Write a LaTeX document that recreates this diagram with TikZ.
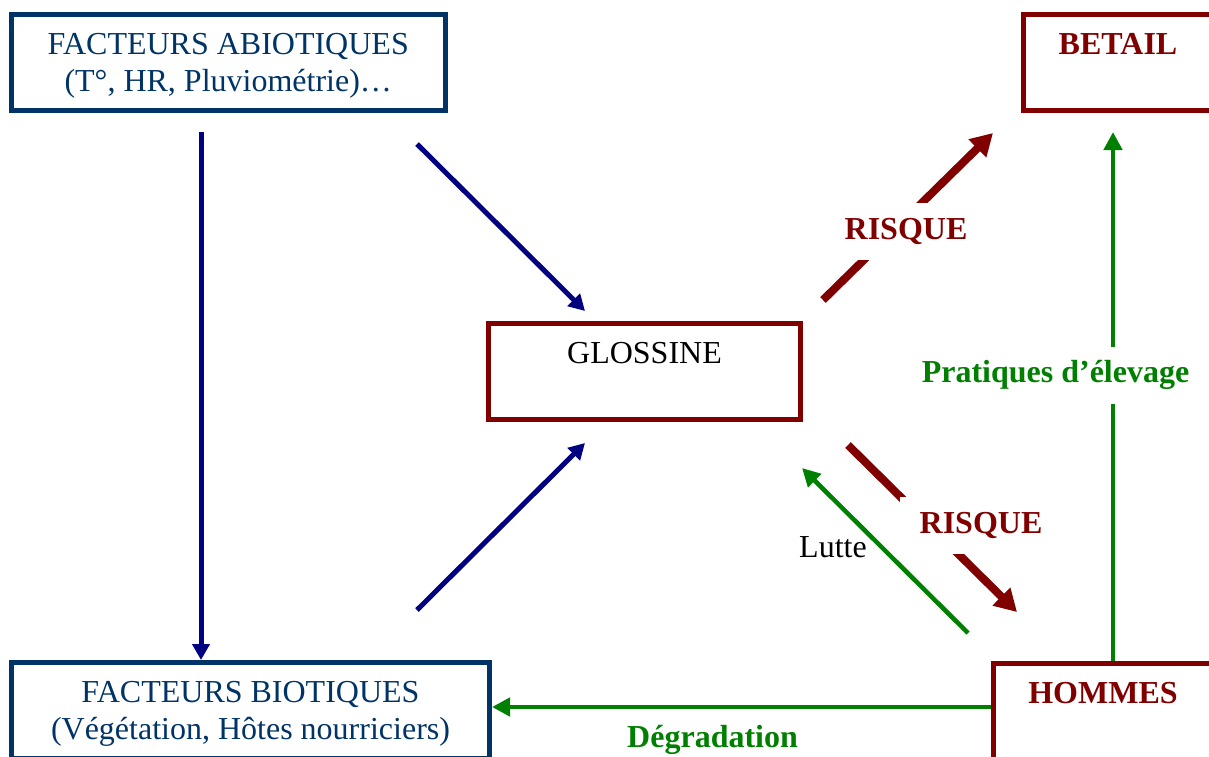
\documentclass[tikz,border=0pt]{standalone}
\usepackage{fontspec}
\setmainfont{Liberation Serif}
\usetikzlibrary{arrows.meta}

\definecolor{boxblue}{RGB}{0,51,102}
\definecolor{navyline}{RGB}{0,0,128}
\definecolor{darkred}{RGB}{128,0,0}
\definecolor{leafgreen}{RGB}{0,128,0}

\begin{document}
\begin{tikzpicture}[
  x=1pt, y=-1pt,
  font=\fontsize{32}{37}\selectfont,
  %% Box styles
  bluebox/.style  = {draw=boxblue, line width=5pt, text=boxblue,
                     align=center, text depth=0pt, minimum height=96pt},
  redbox/.style   = {draw=darkred, line width=5pt, align=center,
                     minimum height=96pt},
  hdr/.style      = {font=\fontsize{32}{37}\selectfont\bfseries, text=darkred},
  risklbl/.style  = {fill=white, font=\fontsize{32}{37}\selectfont\bfseries,
                     text=darkred, minimum height=57pt,
                     inner xsep=20pt, inner ysep=0pt},
  greenlbl/.style = {font=\fontsize{32}{37}\selectfont\bfseries,
                     text=leafgreen, inner sep=0pt},
  navyarr/.style  = {-{Triangle[length=16pt,width=17pt]}, navyline, line width=5pt},
  redarr/.style   = {-{Triangle[length=22pt,width=24pt]}, darkred, line width=8pt},
  greenarr/.style = {-{Triangle[length=18pt,width=18pt]}, leafgreen, line width=4.5pt},
]
\useasboundingbox (0,0) rectangle (1209,756);

%% ── Boxes ──────────────────────────────────────────────────────
\node[bluebox, minimum width=433.5pt] (abio) at (228.25,62.5)
  {FACTEURS ABIOTIQUES\\(T°, HR, Pluviométrie)…};

\node[bluebox, minimum width=478pt] (bio) at (250.5,710.5)
  {FACTEURS BIOTIQUES\\(Végétation, Hôtes nourriciers)};

\node[redbox, minimum width=312pt] (glos) at (644.5,371.5) {GLOSSINE\\\mbox{}};

\node[redbox, hdr, minimum width=189pt] (betail) at (1118,62.5) {BETAIL\\\mbox{}};

\node[redbox, hdr, minimum width=219pt] (hom) at (1103,711.5) {HOMMES\\\mbox{}};

%% ── Free arrow ends ────────────────────────────────────────────
\coordinate (vTop) at (201,132);
\coordinate (n1s) at (417,144);  \coordinate (n1e) at (585,311);
\coordinate (n2s) at (417,610);  \coordinate (n2e) at (585,443);
\coordinate (r1s) at (823,300);  \coordinate (r1e) at (993,133);
\coordinate (r2s) at (848,445);  \coordinate (r2e) at (1017,612);
\coordinate (gLs) at (968,633);  \coordinate (gLe) at (802,468);
\coordinate (gTop) at (1113,132);
\coordinate (dg) at (0,707);

%% ── Arrows: abiotic factors ────────────────────────────────────
\draw[navyarr] (vTop) -- (vTop |- bio.north);
\draw[navyarr] (n1s) -- (n1e);
\draw[navyarr] (n2s) -- (n2e);

%% ── Arrows: risk ───────────────────────────────────────────────
\draw[redarr] (r1s) -- (r1e);
\draw[redarr] (r2s) -- (r2e);

%% ── Arrows: human actions ──────────────────────────────────────
\draw[greenarr] (gLs) -- (gLe);
\draw[greenarr] (gTop |- hom.north) -- (gTop);
\draw[greenarr] (hom.west |- dg) -- (bio.east |- dg)
  node[greenlbl, pos=0.558, below=16pt] (degr) {Dégradation};

%% ── Labels ─────────────────────────────────────────────────────
\node[risklbl] (risk1) at (906,231) {RISQUE};
\node[risklbl] (risk2) at (981,525) {RISQUE};
\node[greenlbl, fill=white, minimum height=57pt, inner xsep=6pt] (prat)
  at (1055.5,375) {Pratiques d’élevage};
\node[anchor=base, inner sep=0pt] (lutte) at (833,557) {Lutte};

\end{tikzpicture}
\end{document}
